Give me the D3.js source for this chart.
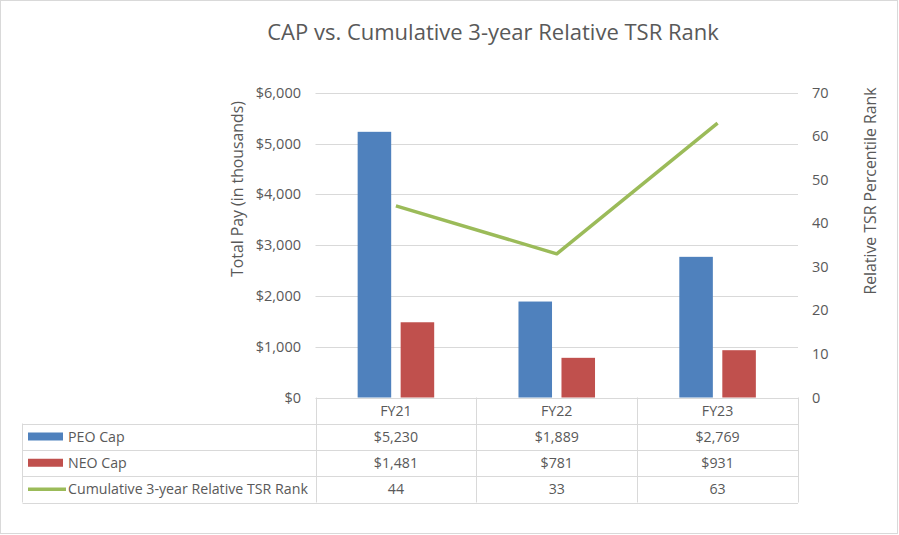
<!DOCTYPE html>
<html><head><meta charset="utf-8">
<script src="https://cdn.jsdelivr.net/npm/d3@7"></script>
<style>body{margin:0;background:#fff;} text{font-family:"Open Sans",sans-serif;fill:#595959;}</style>
</head><body>
<svg id="c" width="899" height="535"></svg>
<script>
const categories = ["FY21","FY22","FY23"];
const peoCap = [5230,1889,2769];
const neoCap = [1481,781,931];
const tsrRank = [44,33,63];
const leftTicks = [0,1000,2000,3000,4000,5000,6000];
const rightTicks = [0,10,20,30,40,50,60,70];
const seriesNames = ["PEO Cap","NEO Cap","Cumulative 3-year Relative TSR Rank"];
const colors = {peo:"#4F81BD", neo:"#C0504D", tsr:"#9BBB59"};

const svg = d3.select("#c");
const grid = "#D9D9D9";
const L = 315.5, R = 798, T = 92.7, B = 397.5;
const tickFs = 14.5, tableFs = 14.2;

svg.append("rect").attr("x",0.5).attr("y",0.5).attr("width",897).attr("height",533)
  .attr("fill","#fff").attr("stroke","#D9D9D9");

const x = d3.scaleBand().domain(categories).range([L,R]);
const xs = d3.scaleBand().domain(["peo","neo"]).range([0,x.bandwidth()]).paddingInner(0.22).paddingOuter(0.98);
const yL = d3.scaleLinear().domain([0,6000]).range([B,T]);
const yR = d3.scaleLinear().domain([0,70]).range([B,T]);

// gridlines
svg.append("g").selectAll("line").data(leftTicks.slice(1)).join("line")
  .attr("x1",L).attr("x2",R).attr("y1",d=>Math.round(yL(d))+0.5).attr("y2",d=>Math.round(yL(d))+0.5)
  .attr("stroke",grid).attr("stroke-width",1);

// axis labels
const fmt = d=>"$"+d3.format(",")(d);
svg.append("g").selectAll("text").data(leftTicks).join("text")
  .attr("x",301).attr("y",d=>yL(d)+5).attr("text-anchor","end").attr("font-size",tickFs).text(fmt);
svg.append("g").selectAll("text").data(rightTicks).join("text")
  .attr("x",812).attr("y",d=>yR(d)+5).attr("text-anchor","start").attr("font-size",tickFs).text(d=>d);

// axis titles
svg.append("text").attr("transform",`translate(243,189) rotate(-90)`).attr("text-anchor","middle")
  .attr("font-size",15.8).text("Total Pay (in thousands)");
svg.append("text").attr("transform",`translate(876,191) rotate(-90)`).attr("text-anchor","middle")
  .attr("font-size",15.8).text("Relative TSR Percentile Rank");

// title
svg.append("text").attr("x",493).attr("y",40).attr("text-anchor","middle").attr("font-size",22).text("CAP vs. Cumulative 3-year Relative TSR Rank");

// bars
const g = svg.append("g");
g.selectAll("rect.peo").data(peoCap).join("rect").attr("class","peo")
  .attr("x",(d,i)=>x(categories[i])+xs("peo")).attr("width",xs.bandwidth())
  .attr("y",d=>yL(d)).attr("height",d=>B-yL(d)).attr("fill",colors.peo);
g.selectAll("rect.neo").data(neoCap).join("rect").attr("class","neo")
  .attr("x",(d,i)=>x(categories[i])+xs("neo")).attr("width",xs.bandwidth())
  .attr("y",d=>yL(d)).attr("height",d=>B-yL(d)).attr("fill",colors.neo);

// line
const line = d3.line().x((d,i)=>x(categories[i])+x.bandwidth()/2).y(d=>yR(d));
svg.append("path").datum(tsrRank).attr("d",line).attr("fill","none").attr("stroke",colors.tsr)
  .attr("stroke-width",3.5).attr("stroke-linejoin","round");

// data table
const tL = 22.5;
const rows = [B, 423.5, 449.5, 476, 502.5];
const tg = svg.append("g");
tg.append("line").attr("x1",L).attr("x2",R).attr("y1",Math.round(rows[0])+0.5).attr("y2",Math.round(rows[0])+0.5).attr("stroke",grid);
rows.slice(1).forEach(r=>{
  tg.append("line").attr("x1",tL).attr("x2",R).attr("y1",Math.round(r)+0.5).attr("y2",Math.round(r)+0.5).attr("stroke",grid);
});
const colXs = [L].concat(categories.map(c=>x(c)+x.bandwidth()));
colXs.forEach(cx=>{
  tg.append("line").attr("x1",Math.round(cx)+0.5).attr("x2",Math.round(cx)+0.5).attr("y1",rows[0]).attr("y2",rows[4]).attr("stroke",grid);
});
tg.append("line").attr("x1",tL).attr("x2",tL).attr("y1",rows[1]).attr("y2",rows[4]).attr("stroke",grid);

tg.selectAll("text.h").data(categories).join("text").attr("class","h")
  .attr("x",d=>x(d)+x.bandwidth()/2).attr("y",(rows[0]+rows[1])/2+5).attr("text-anchor","middle").attr("font-size",tableFs).text(d=>d);
const tableData = [peoCap.map(fmt), neoCap.map(fmt), tsrRank.map(String)];
tableData.forEach((vals,ri)=>{
  const cy = (rows[ri+1]+rows[ri+2])/2+5;
  tg.selectAll("text.r"+ri).data(vals).join("text").attr("class","r"+ri)
    .attr("x",(d,i)=>x(categories[i])+x.bandwidth()/2).attr("y",cy).attr("text-anchor","middle").attr("font-size",tableFs).text(d=>d);
  tg.append("text").attr("x",68).attr("y",cy).attr("font-size",tableFs).text(seriesNames[ri]);
});
tg.append("rect").attr("x",28).attr("y",(rows[1]+rows[2])/2-4).attr("width",35).attr("height",8).attr("fill",colors.peo);
tg.append("rect").attr("x",28).attr("y",(rows[2]+rows[3])/2-4).attr("width",35).attr("height",8).attr("fill",colors.neo);
tg.append("line").attr("x1",28).attr("x2",66).attr("y1",(rows[3]+rows[4])/2).attr("y2",(rows[3]+rows[4])/2)
  .attr("stroke",colors.tsr).attr("stroke-width",3.5);
</script>
</body></html>
